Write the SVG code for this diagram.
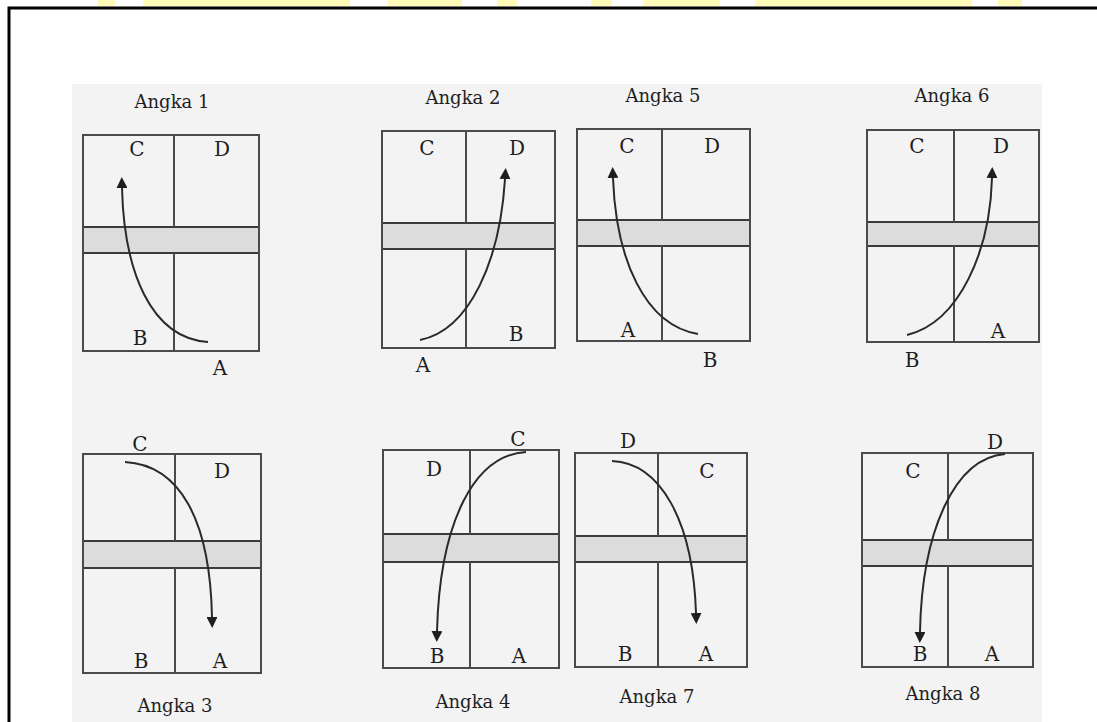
<svg xmlns="http://www.w3.org/2000/svg" width="1097" height="722" viewBox="0 0 1097 722">
<style>
.box{fill:none;stroke:#4a4a4a;stroke-width:2}
.band{fill:#dcdcdc;stroke:#3a3a3a;stroke-width:2}
.div{stroke:#4a4a4a;stroke-width:2}
.lbl{font-family:"DejaVu Serif","Liberation Serif",serif;font-size:20px;fill:#1e1e1e;text-anchor:middle}
.cap{font-family:"DejaVu Serif","Liberation Serif",serif;font-size:18px;fill:#1e1e1e;text-anchor:middle}
.arr{fill:none;stroke:#2a2a2a;stroke-width:2;marker-end:url(#ah)}
</style>
<defs>
<marker id="ah" viewBox="0 0 10 10" refX="0" refY="5" markerWidth="11" markerHeight="11" markerUnits="userSpaceOnUse" orient="auto">
<path d="M0,0 L10,5 L0,10 Z" fill="#1e1e1e"/>
</marker>
</defs>
<rect width="1097" height="722" fill="#ffffff"/>
<g id="banner" fill="#fffab8">
<rect x="98" y="0" width="17" height="6"/>
<rect x="143" y="0" width="207" height="6"/>
<rect x="388" y="0" width="74" height="6"/>
<rect x="497" y="0" width="20" height="6"/>
<rect x="591" y="0" width="21" height="6"/>
<rect x="643" y="0" width="77" height="6"/>
<rect x="755" y="0" width="217" height="6"/>
<rect x="998" y="0" width="24" height="6"/>
</g>
<path d="M9,722 V8 H1097" fill="none" stroke="#000" stroke-width="3"/>
<rect x="72" y="84" width="970" height="638" fill="#f3f3f3"/>

<g id="angka1">
<rect class="band" x="83" y="227" width="176" height="26"/>
<rect class="box" x="83" y="135" width="176" height="216"/>
<line class="div" x1="174" y1="135" x2="174" y2="227"/>
<line class="div" x1="174" y1="253" x2="174" y2="351"/>
<text class="cap" x="172" y="108">Angka 1</text>
<text class="lbl" x="137" y="156">C</text>
<text class="lbl" x="222" y="156">D</text>
<text class="lbl" x="140" y="345">B</text>
<text class="lbl" x="220" y="375">A</text>
</g>

<g id="angka2">
<rect class="band" x="382" y="223" width="173" height="26"/>
<rect class="box" x="382" y="131" width="173" height="217"/>
<line class="div" x1="466" y1="131" x2="466" y2="223"/>
<line class="div" x1="466" y1="249" x2="466" y2="348"/>
<text class="cap" x="463" y="104">Angka 2</text>
<text class="lbl" x="427" y="155">C</text>
<text class="lbl" x="517" y="155">D</text>
<text class="lbl" x="516" y="341">B</text>
<text class="lbl" x="423" y="372">A</text>
</g>

<g id="angka5">
<rect class="band" x="577" y="220" width="173" height="26"/>
<rect class="box" x="577" y="129" width="173" height="212"/>
<line class="div" x1="662" y1="129" x2="662" y2="220"/>
<line class="div" x1="662" y1="246" x2="662" y2="341"/>
<text class="cap" x="663" y="102">Angka 5</text>
<text class="lbl" x="627" y="153">C</text>
<text class="lbl" x="712" y="153">D</text>
<text class="lbl" x="628" y="337">A</text>
<text class="lbl" x="710" y="367">B</text>
</g>

<g id="angka6">
<rect class="band" x="867" y="222" width="172" height="24"/>
<rect class="box" x="867" y="130" width="172" height="212"/>
<line class="div" x1="954" y1="130" x2="954" y2="222"/>
<line class="div" x1="954" y1="246" x2="954" y2="342"/>
<text class="cap" x="952" y="102">Angka 6</text>
<text class="lbl" x="917" y="153">C</text>
<text class="lbl" x="1001" y="153">D</text>
<text class="lbl" x="998" y="338">A</text>
<text class="lbl" x="912" y="367">B</text>
</g>

<g id="angka3">
<rect class="band" x="83" y="541" width="178" height="27"/>
<rect class="box" x="83" y="454" width="178" height="219"/>
<line class="div" x1="175" y1="454" x2="175" y2="541"/>
<line class="div" x1="175" y1="568" x2="175" y2="673"/>
<text class="lbl" x="140" y="451">C</text>
<text class="lbl" x="222" y="478">D</text>
<text class="lbl" x="141" y="668">B</text>
<text class="lbl" x="220" y="668">A</text>
<text class="cap" x="175" y="712">Angka 3</text>
</g>

<g id="angka4">
<rect class="band" x="383" y="534" width="176" height="28"/>
<rect class="box" x="383" y="450" width="176" height="218"/>
<line class="div" x1="470" y1="450" x2="470" y2="534"/>
<line class="div" x1="470" y1="562" x2="470" y2="668"/>
<text class="lbl" x="518" y="446">C</text>
<text class="lbl" x="434" y="476">D</text>
<text class="lbl" x="437" y="663">B</text>
<text class="lbl" x="519" y="663">A</text>
<text class="cap" x="473" y="708">Angka 4</text>
</g>

<g id="angka7">
<rect class="band" x="575" y="536" width="172" height="26"/>
<rect class="box" x="575" y="453" width="172" height="214"/>
<line class="div" x1="658" y1="453" x2="658" y2="536"/>
<line class="div" x1="658" y1="562" x2="658" y2="667"/>
<text class="lbl" x="628" y="448">D</text>
<text class="lbl" x="707" y="478">C</text>
<text class="lbl" x="625" y="661">B</text>
<text class="lbl" x="706" y="661">A</text>
<text class="cap" x="657" y="703">Angka 7</text>
</g>

<g id="angka8">
<rect class="band" x="862" y="540" width="171" height="26"/>
<rect class="box" x="862" y="453" width="171" height="214"/>
<line class="div" x1="948" y1="453" x2="948" y2="540"/>
<line class="div" x1="948" y1="566" x2="948" y2="667"/>
<text class="lbl" x="995" y="449">D</text>
<text class="lbl" x="913" y="478">C</text>
<text class="lbl" x="920" y="661">B</text>
<text class="lbl" x="992" y="661">A</text>
<text class="cap" x="943" y="700">Angka 8</text>
</g>

<g id="connectors">
<path class="arr" d="M208,342 C150,338 124,270 122,188"/>
<path class="arr" d="M420,340 C470,330 500,260 505,179"/>
<path class="arr" d="M698,334 C645,325 616,260 613,178"/>
<path class="arr" d="M907,335 C960,322 990,250 992,178"/>
<path class="arr" d="M125,462 C180,465 210,520 212,617"/>
<path class="arr" d="M526,452 C475,455 440,520 437,631"/>
<path class="arr" d="M612,461 C660,463 693,520 696,613"/>
<path class="arr" d="M1005,454 C955,458 922,530 920,632"/>
</g>
</svg>
